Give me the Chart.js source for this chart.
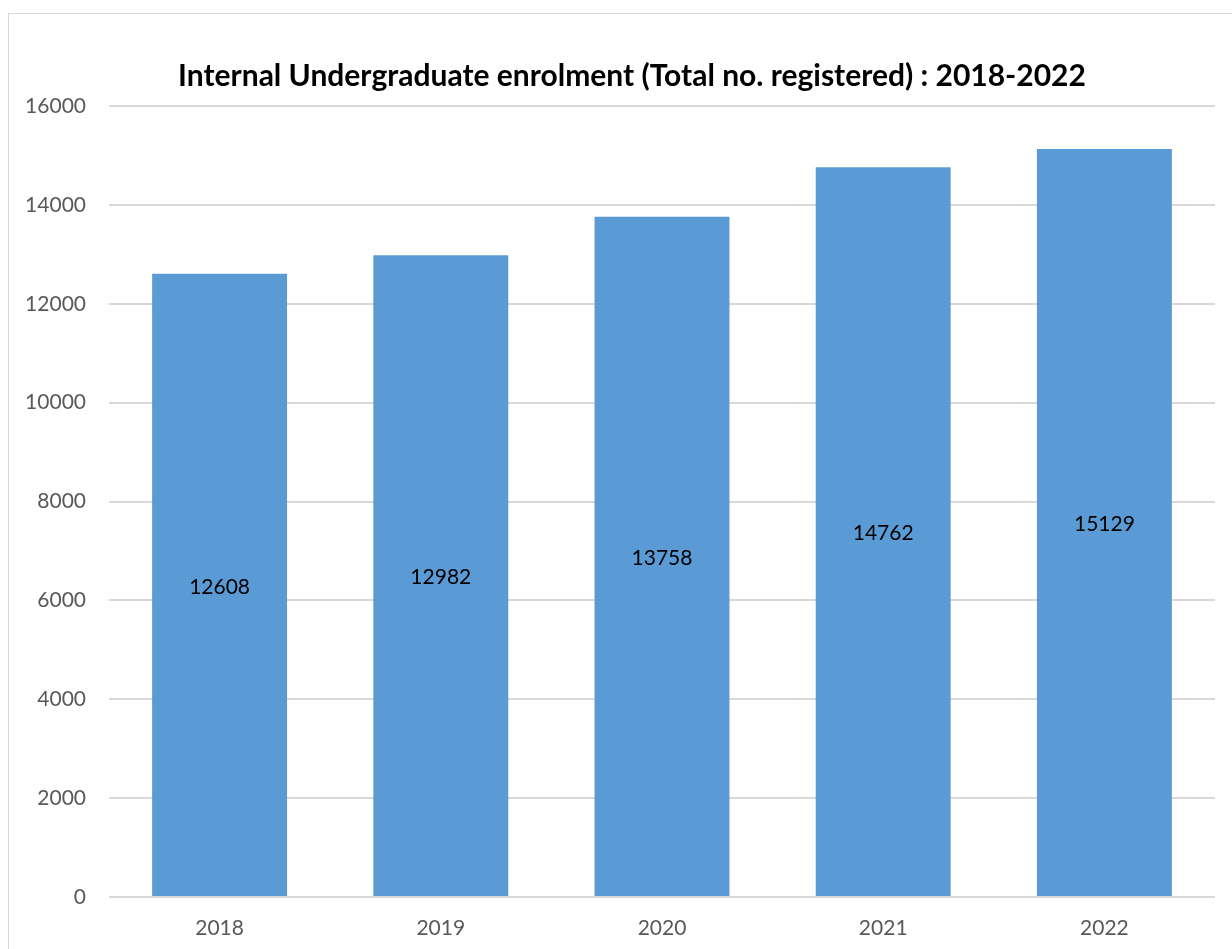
<!DOCTYPE html>
<html>
<head>
<meta charset="utf-8">
<script src="https://cdn.jsdelivr.net/npm/chart.js@4/dist/chart.umd.min.js"></script>
<style>
  html, body { margin: 0; padding: 0; background: #fff; overflow: hidden; }
  #wrap { position: relative; width: 1232px; height: 949px; }
  #frame {
    position: absolute; left: 8px; top: 13px; width: 1400px; height: 1100px;
    border: 1px solid #d9d9d9; pointer-events: none;
  }
</style>
</head>
<body>
<div id="wrap">
  <canvas id="enrolChart" width="1232" height="949"></canvas>
  <div id="frame"></div>
</div>
<script>
// chart data
const years = ["2018", "2019", "2020", "2021", "2022"];
const registered = [12608, 12982, 13758, 14762, 15129];
const yTicks = [0, 2000, 4000, 6000, 8000, 10000, 12000, 14000, 16000];
const chartTitle = 'Internal Undergraduate enrolment (Total no. registered) : 2018-2022';

const FONT = "Lato, 'Open Sans', sans-serif";

// draw each value in the middle of its bar
const barLabels = {
    id: 'barLabels',
    afterDatasetsDraw(chart) {
        const ctx = chart.ctx;
        const meta = chart.getDatasetMeta(0);
        ctx.save();
        ctx.font = `21px ${FONT}`;
        ctx.fillStyle = '#000';
        ctx.textAlign = 'center';
        ctx.textBaseline = 'middle';
        meta.data.forEach((bar, i) => {
            const mid = (bar.y + bar.base) / 2;
            ctx.fillText(registered[i], bar.x, mid + 2);
        });
        ctx.restore();
    }
};

// title sits a bit left of the plot centre, like the original
const topTitle = {
    id: 'topTitle',
    afterDraw(chart) {
        const ctx = chart.ctx;
        ctx.save();
        ctx.font = `bold 30px ${FONT}`;
        ctx.fillStyle = '#000';
        ctx.textAlign = 'center';
        ctx.textBaseline = 'middle';
        ctx.fillText(chartTitle, 632, 76);
        ctx.restore();
    }
};

new Chart(document.getElementById('enrolChart').getContext('2d'), {
    type: 'bar',
    data: {
        labels: years,
        datasets: [{
            label: 'Total no. registered',
            data: registered,
            backgroundColor: '#5B9BD5',
            borderWidth: 0,
            barPercentage: 0.61,
            categoryPercentage: 1.0
        }]
    },
    options: {
        responsive: false,
        animation: false,
        layout: { padding: { left: 0, right: 17, top: 106, bottom: 0 } },
        plugins: {
            legend: { display: false },
            tooltip: { enabled: false },
            title: { display: false }
        },
        scales: {
            x: {
                grid: { display: false },
                border: { display: false },
                ticks: { color: '#595959', font: { family: FONT, size: 21 }, padding: 11 },
                afterFit(axis) { axis.height = 52; }
            },
            y: {
                min: 0,
                max: 16000,
                afterBuildTicks(axis) { axis.ticks = yTicks.map(v => ({ value: v })); },
                grid: { color: '#d9d9d9', lineWidth: 2, drawTicks: false },
                border: { display: false },
                ticks: {
                    color: '#595959',
                    font: { family: FONT, size: 21 },
                    padding: 23,
                    callback: v => String(v)
                },
                afterFit(axis) { axis.width = 109; }
            }
        }
    },
    plugins: [barLabels, topTitle]
});
</script>
</body>
</html>
